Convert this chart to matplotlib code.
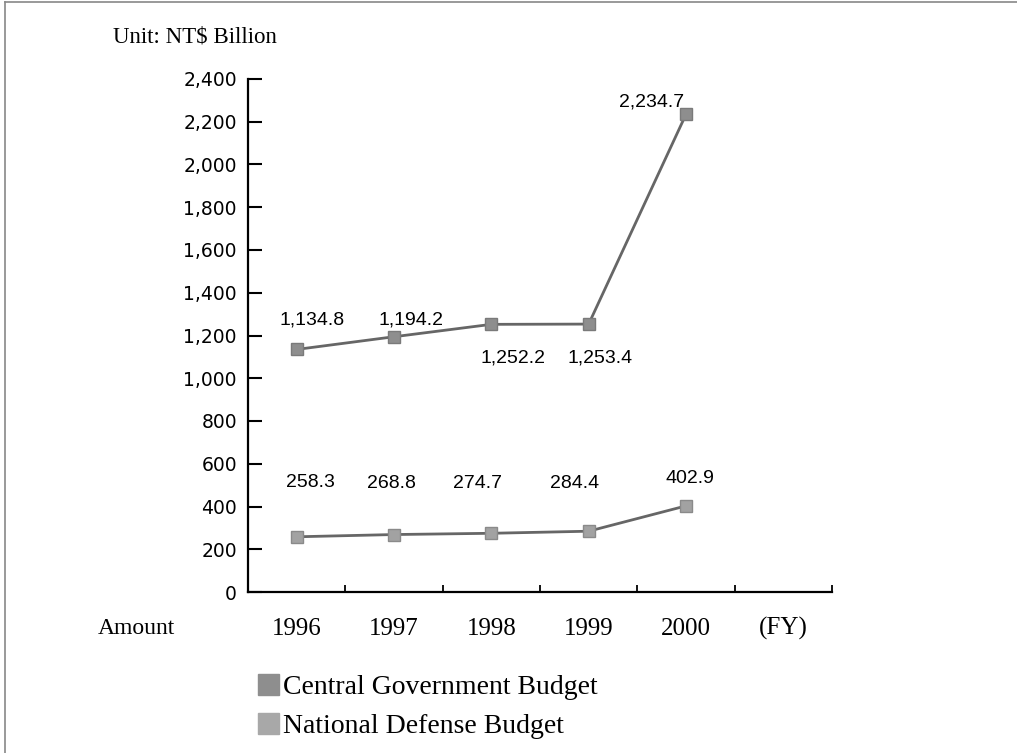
import numpy as np
import matplotlib
matplotlib.use('Agg')
import matplotlib.pyplot as plt
from matplotlib.patches import Patch
from matplotlib.lines import Line2D

# Data (NT$ Billion)
years = ['1996', '1997', '1998', '1999', '2000']
central = [1134.8, 1194.2, 1252.2, 1253.4, 2234.7]
defense = [258.3, 268.8, 274.7, 284.4, 402.9]
yticks = list(range(0, 2401, 200))

# label offsets in pixels (dx, dy)
central_off = [(15, 29), (17, 17), (22, -34), (11, -34), (-34, 12)]
defense_off = [(14, 54), (-3, 51), (-14, 50), (-14, 48), (4, 27)]

fig = plt.figure(figsize=(10.17, 7.53), dpi=100)
ax = fig.add_axes([248/1017, 1-592/753, 584/1017, 513/753])

x = np.arange(len(years))
ax.plot(x, central, color='#666666', lw=2, marker='s', ms=8,
        mfc='#8e8e8e', mec='#7a7a7a', zorder=3)
ax.plot(x, defense, color='#666666', lw=2, marker='s', ms=8,
        mfc='#a2a2a2', mec='#8a8a8a', zorder=3)

for i in range(len(years)):
    ax.annotate('{:,.1f}'.format(central[i]), (x[i], central[i]),
                xytext=central_off[i], textcoords='offset pixels',
                ha='center', va='center', fontsize=14, family='Liberation Sans')
    ax.annotate('{:,.1f}'.format(defense[i]), (x[i], defense[i]),
                xytext=defense_off[i], textcoords='offset pixels',
                ha='center', va='center', fontsize=14, family='Liberation Sans')

ax.set_xlim(-0.5, 5.5)
ax.set_ylim(0, 2400)
ax.set_yticks(yticks)
ax.set_yticklabels(['{:,}'.format(v) for v in yticks], family='DejaVu Sans', fontsize=13.5)
ax.tick_params(axis='y', direction='in', length=10, width=1.5, pad=8)

ax.set_xticks(x)
ax.set_xticklabels(years, family='Liberation Serif', fontsize=18)
ax.tick_params(axis='x', which='major', length=0, pad=19)
ax.set_xticks(np.arange(0.5, 6, 1), minor=True)
ax.tick_params(axis='x', which='minor', direction='in', length=5, width=1.3)

for s in ['top', 'right']:
    ax.spines[s].set_visible(False)
for s in ['left', 'bottom']:
    ax.spines[s].set_linewidth(1.6)

ax.annotate('(FY)', (5, 0), xycoords=('data', 'axes fraction'),
            xytext=(0, -36), textcoords='offset pixels', ha='center', va='center',
            fontsize=18, family='Liberation Serif')

fig.text(98/1017, 1-628/753, 'Amount', ha='left', va='center', fontsize=17, family='Liberation Serif')
fig.text(113/1017, 1-37/753, 'Unit: NT$ Billion', ha='left', va='center', fontsize=16.5, family='Liberation Serif')

handles = [Patch(facecolor='#8e8e8e', edgecolor='#8e8e8e', label='Central Government Budget'),
           Patch(facecolor='#a8a8a8', edgecolor='#a8a8a8', label='National Defense Budget')]
fig.legend(handles=handles, loc='upper left', bbox_to_anchor=(258/1017, 1-674/753),
           frameon=False, prop={'family': 'Liberation Serif', 'size': 20},
           handlelength=0.75, handleheight=0.8, handletextpad=0.15, labelspacing=0.45,
           borderpad=0, borderaxespad=0)

# page border
fig.add_artist(Line2D([5/1017, 1], [1-2/753, 1-2/753], color='#888888', lw=1.2))
fig.add_artist(Line2D([5/1017, 5/1017], [0, 1-2/753], color='#888888', lw=1.2))

fig.savefig('out.png', dpi=100)
